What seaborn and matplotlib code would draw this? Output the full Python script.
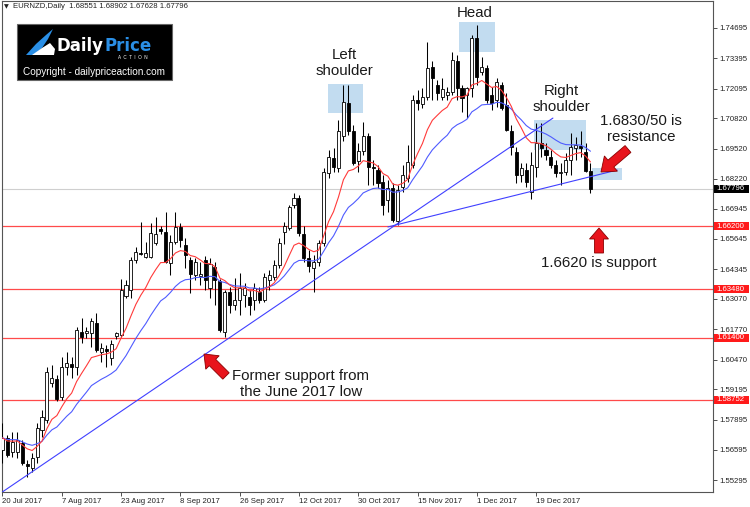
import numpy as np
import pandas as pd
import matplotlib
matplotlib.use("Agg")
import matplotlib.pyplot as plt
import seaborn as sns
from matplotlib.patches import Rectangle, FancyArrow, Polygon
from matplotlib.transforms import blended_transform_factory, IdentityTransform

# ---------------- data (EURNZD daily) ----------------
opens = [1.5659, 1.5711, 1.5650, 1.5650, 1.5689, 1.5599, 1.5582, 1.5629, 1.5745, 1.5788,
         1.5947, 1.5964, 1.5886, 1.6015, 1.6028, 1.6015, 1.6165, 1.6161, 1.6161, 1.6204,
         1.6080, 1.6092, 1.6054, 1.6148, 1.6152, 1.6320, 1.6346, 1.6474, 1.6504, 1.6487,
         1.6487, 1.6547, 1.6607, 1.6594, 1.6461, 1.6551, 1.6616, 1.6539, 1.6474, 1.6410,
         1.6406, 1.6474, 1.6354, 1.6444, 1.6384, 1.6165, 1.6337, 1.6281, 1.6303, 1.6324,
         1.6315, 1.6303, 1.6337, 1.6303, 1.6388, 1.6401, 1.6453, 1.6594, 1.6611, 1.6710,
         1.6740, 1.6586, 1.6483, 1.6440, 1.6466, 1.6547, 1.6847, 1.6911, 1.6869, 1.7006,
         1.7148, 1.7027, 1.6899, 1.6942, 1.7006, 1.6873, 1.6860, 1.6809, 1.6732, 1.6783,
         1.6641, 1.6787, 1.6825, 1.6882, 1.7161, 1.7144, 1.7173, 1.7302, 1.7225, 1.7173,
         1.7182, 1.7195, 1.7330, 1.7212, 1.7182, 1.7212, 1.7427, 1.7281, 1.7298, 1.7182,
         1.7161, 1.7225, 1.7139, 1.7027, 1.6937, 1.6839, 1.6860, 1.6766, 1.6873, 1.6976,
         1.6946, 1.6916, 1.6882, 1.6847, 1.6852, 1.6903, 1.6955, 1.6963, 1.6937, 1.68551]
highs = [1.5775, 1.5723, 1.5736, 1.5736, 1.5702, 1.5616, 1.5646, 1.5775, 1.5831, 1.6015,
         1.6024, 1.5981, 1.6058, 1.6080, 1.6058, 1.6187, 1.6225, 1.6187, 1.6225, 1.6247,
         1.6118, 1.6110, 1.6131, 1.6165, 1.6393, 1.6388, 1.6487, 1.6530, 1.6637, 1.6551,
         1.6633, 1.6658, 1.6620, 1.6680, 1.6581, 1.6681, 1.6633, 1.6568, 1.6487, 1.6483,
         1.6466, 1.6491, 1.6483, 1.6466, 1.6393, 1.6346, 1.6358, 1.6397, 1.6418, 1.6376,
         1.6346, 1.6376, 1.6358, 1.6418, 1.6431, 1.6474, 1.6568, 1.6637, 1.6710, 1.6762,
         1.6753, 1.6620, 1.6517, 1.6496, 1.6560, 1.6869, 1.6946, 1.6955, 1.7075, 1.7225,
         1.7225, 1.7053, 1.6976, 1.7066, 1.7019, 1.6903, 1.6882, 1.6839, 1.6818, 1.6805,
         1.6796, 1.6882, 1.6968, 1.7182, 1.7204, 1.7212, 1.7409, 1.7330, 1.7247, 1.7255,
         1.7216, 1.7367, 1.7354, 1.7225, 1.7216, 1.7440, 1.7482, 1.7344, 1.7311, 1.7216,
         1.7255, 1.7238, 1.7191, 1.7053, 1.6959, 1.6890, 1.6890, 1.6937, 1.7062, 1.7062,
         1.6976, 1.6946, 1.6903, 1.6890, 1.6933, 1.7019, 1.7002, 1.7027, 1.6976, 1.68902]
lows = [1.5603, 1.5629, 1.5629, 1.5625, 1.5595, 1.5543, 1.5565, 1.5603, 1.5715, 1.5775,
        1.5929, 1.5869, 1.5874, 1.5981, 1.5968, 1.5981, 1.6118, 1.6140, 1.6101, 1.6080,
        1.6037, 1.6015, 1.6024, 1.6135, 1.6144, 1.6311, 1.6311, 1.6461, 1.6496, 1.6483,
        1.6483, 1.6539, 1.6586, 1.6461, 1.6410, 1.6543, 1.6530, 1.6440, 1.6333, 1.6388,
        1.6367, 1.6346, 1.6311, 1.6281, 1.6165, 1.6144, 1.6247, 1.6260, 1.6238, 1.6272,
        1.6238, 1.6260, 1.6291, 1.6294, 1.6346, 1.6388, 1.6440, 1.6543, 1.6603, 1.6697,
        1.6577, 1.6466, 1.6423, 1.6337, 1.6448, 1.6534, 1.6825, 1.6852, 1.6852, 1.6984,
        1.7010, 1.6881, 1.6852, 1.6925, 1.6796, 1.6796, 1.6783, 1.6666, 1.6681, 1.6637,
        1.6624, 1.6766, 1.6809, 1.6869, 1.7118, 1.7126, 1.7161, 1.7161, 1.7161, 1.7161,
        1.7161, 1.7182, 1.7161, 1.7109, 1.7083, 1.7173, 1.7225, 1.7268, 1.7148, 1.7118,
        1.7131, 1.7118, 1.7027, 1.6925, 1.6805, 1.6809, 1.6787, 1.6738, 1.6830, 1.6916,
        1.6903, 1.6869, 1.6830, 1.6796, 1.6839, 1.6839, 1.6903, 1.6916, 1.6852, 1.67628]
closes = [1.5711, 1.5638, 1.5693, 1.5702, 1.5603, 1.5590, 1.5625, 1.5753, 1.5801, 1.5994,
          1.5968, 1.5878, 1.6015, 1.6032, 1.6015, 1.6174, 1.6144, 1.6170, 1.6213, 1.6088,
          1.6097, 1.6084, 1.6114, 1.6161, 1.6346, 1.6367, 1.6474, 1.6509, 1.6500, 1.6504,
          1.6590, 1.6586, 1.6599, 1.6466, 1.6551, 1.6616, 1.6560, 1.6496, 1.6414, 1.6466,
          1.6414, 1.6388, 1.6457, 1.6388, 1.6174, 1.6337, 1.6281, 1.6303, 1.6354, 1.6354,
          1.6281, 1.6354, 1.6303, 1.6401, 1.6410, 1.6453, 1.6547, 1.6620, 1.6701, 1.6740,
          1.6590, 1.6483, 1.6448, 1.6466, 1.6547, 1.6852, 1.6916, 1.6873, 1.7027, 1.7152,
          1.7027, 1.6890, 1.6942, 1.7006, 1.6873, 1.6869, 1.6805, 1.6710, 1.6783, 1.6646,
          1.6775, 1.6839, 1.6895, 1.7161, 1.7148, 1.7173, 1.7298, 1.7255, 1.7191, 1.7208,
          1.7195, 1.7332, 1.7212, 1.7169, 1.7212, 1.7427, 1.7259, 1.7302, 1.7161, 1.7148,
          1.7238, 1.7126, 1.7032, 1.6959, 1.6839, 1.6869, 1.6809, 1.6882, 1.6976, 1.6955,
          1.6925, 1.6882, 1.6847, 1.6852, 1.6903, 1.6959, 1.6968, 1.6955, 1.6855, 1.67796]

first_date = "2017-07-20"
date_label_step = 12
price_ticks = [1.74695, 1.73395, 1.72095, 1.70820, 1.69520, 1.68220, 1.66945, 1.65645,
               1.64345, 1.63070, 1.61770, 1.60470, 1.59195, 1.57895, 1.56595, 1.55295]
support_levels = [1.66200, 1.63480, 1.61400, 1.58752]
current_price = 1.67796
header = "EURNZD,Daily  1.68551 1.68902 1.67628 1.67796"
# trendlines: (bar, price) end points
trend_a = ([-0.1, 111.4], [1.5478, 1.7083])
trend_b = ([78.0, 124.4], [1.6616, 1.6860])
# highlighted zones: (bar0, bar1, price_low, price_high)
zones = [(65.8, 72.9, 1.7105, 1.7229),
         (92.3, 99.6, 1.7367, 1.7495),
         (107.5, 118.0, 1.6946, 1.7075),
         (119.4, 125.3, 1.6817, 1.6869)]

# ---------------- build frame ----------------
n = len(closes)
dates = pd.bdate_range(first_date, periods=n)
df = pd.DataFrame({"bar": np.arange(n), "open": opens, "high": highs,
                   "low": lows, "close": closes})
df["ema_fast"] = df["close"].ewm(span=10, adjust=False).mean()
df["ema_slow"] = df["close"].ewm(span=21, adjust=False).mean()

sns.set_theme(style="white")
plt.rcParams["font.family"] = ["Liberation Sans", "DejaVu Sans"]

W, H = 750, 507
fig = plt.figure(figsize=(W / 100, H / 100), dpi=100)
fig.patch.set_facecolor("white")
ax = fig.add_axes([2 / W, 15 / H, 711 / W, 491 / H])
ax.set_facecolor("white")
ax.set_xlim(-0.1, 143.8)
ax.set_ylim(1.54789, 1.75853)

# zones
for b0, b1, p0, p1 in zones:
    ax.add_patch(Rectangle((b0, p0), b1 - b0, p1 - p0, facecolor="#bcd9ef",
                           edgecolor="none", alpha=0.9, zorder=1))

# horizontal levels
ax.axhline(current_price, color="#cfcfcf", lw=0.8, zorder=0.5)
for lv in support_levels:
    ax.axhline(lv, color="#ff4a4a", lw=0.9, zorder=2)

# candles
x = df["bar"].to_numpy()
o = df["open"].to_numpy(); c = df["close"].to_numpy()
ax.vlines(x, df["low"], df["high"], color="black", lw=0.75, zorder=3)
up = c >= o
body_h = np.maximum(np.abs(c - o), 0.00004)
ax.bar(x, body_h, bottom=np.minimum(o, c), width=0.62,
       color=np.where(up, "white", "black"), edgecolor="black",
       linewidth=0.6, zorder=4)

# moving averages
sns.lineplot(data=df, x="bar", y="ema_slow", ax=ax, color="#4f5bff", lw=0.8,
             legend=False, zorder=5)
sns.lineplot(data=df, x="bar", y="ema_fast", ax=ax, color="#ff3a3a", lw=0.8,
             legend=False, zorder=5)

# trendlines
ax.plot(trend_a[0], trend_a[1], color="#4040ff", lw=0.8, zorder=5)
ax.plot(trend_b[0], trend_b[1], color="#4040ff", lw=0.8, zorder=5)

# axes styling
for s in ax.spines.values():
    s.set_color("#555555"); s.set_linewidth(0.8); s.set_visible(True)
ax.set_xlabel(""); ax.set_ylabel("")
ax.yaxis.tick_right()
ax.set_yticks(price_ticks)
ax.set_yticklabels([f"{p:.5f}" for p in price_ticks])
ax.tick_params(axis="y", which="both", right=True, left=False, length=3, width=0.6,
               pad=1.5, labelsize=5.6, color="#333333", labelcolor="#222222",
               direction="out")
xt = list(range(0, n, date_label_step))
ax.set_xticks(xt)
ax.set_xticklabels([f"{dates[i].day} {dates[i]:%b %Y}" for i in xt])
for lbl in ax.get_xticklabels():
    lbl.set_ha("left")
ax.tick_params(axis="x", which="both", bottom=True, length=3, width=0.6, pad=1.5,
               labelsize=5.6, color="#333333", labelcolor="#222222", direction="out")

# highlighted price labels on the right scale
trans = blended_transform_factory(ax.transAxes, ax.transData)
box_h = 0.0035
for val, fc in [(current_price, "black")] + [(lv, "#ff1a1a") for lv in support_levels]:
    ax.add_patch(Rectangle((1.0014, val - box_h / 2), 0.0492, box_h, transform=trans,
                           facecolor=fc, edgecolor="none", clip_on=False, zorder=10))
    ax.text(1.0045, val, f"{val:.5f}", transform=trans, ha="left", va="center",
            fontsize=5.6, color="white", clip_on=False, zorder=11)

# ---------------- header & logo ----------------
def fx(px):
    return px / W

def fy(py):
    return 1 - py / H

fig.text(fx(4), fy(7), "\u25BC", fontsize=4.5, color="#222222", ha="left", va="center",
         family=["DejaVu Sans"])
fig.text(fx(13), fy(7), header, fontsize=5.6, color="#222222", ha="left", va="center")

fig.add_artist(Rectangle((fx(17), fy(80)), 155 / W, 56 / H, transform=fig.transFigure,
                         facecolor="black", edgecolor="#666666", lw=0.8, zorder=20))
blue_pts = [(26, 55), (36, 44), (46, 35), (53, 29), (48, 39), (42, 48), (34, 55)]
white_pts = [(32, 55), (42, 48), (50, 43), (55, 49), (54, 55)]
for pts, col in [(blue_pts, "#2a8fe6"), (white_pts, "white")]:
    fig.add_artist(Polygon([(px, H - py) for px, py in pts], closed=True,
                           transform=IdentityTransform(), facecolor=col,
                           edgecolor="none", zorder=21))
fig.text(fx(57), fy(46), "Daily", fontsize=12, fontweight="bold", color="white",
         family=["DejaVu Sans"], ha="left", va="center", zorder=22)
fig.text(fx(104), fy(46), "Price", fontsize=12, fontweight="bold", color="#2a8fe6",
         family=["DejaVu Sans"], ha="left", va="center", zorder=22)
fig.text(fx(133), fy(57.5), "A  C  T  I  O  N", fontsize=3.3, color="white",
         ha="center", va="center", zorder=22)
fig.text(fx(94), fy(72), "Copyright - dailypriceaction.com", fontsize=7.2,
         color="white", ha="center", va="center", zorder=22)

# ---------------- annotations ----------------
tc = "#1a1a1a"
fs = 10.8
fig.text(fx(475), fy(13), "Head", fontsize=fs, color=tc, ha="center", va="center")
fig.text(fx(344), fy(63), "Left\nshoulder", fontsize=fs, color=tc, ha="center",
         va="center", linespacing=1.1)
fig.text(fx(561), fy(99), "Right\nshoulder", fontsize=fs, color=tc, ha="center",
         va="center", linespacing=1.1)
fig.text(fx(641), fy(129), "1.6830/50 is\nresistance", fontsize=fs, color=tc,
         ha="center", va="center", linespacing=1.1)
fig.text(fx(599), fy(263), "1.6620 is support", fontsize=fs, color=tc,
         ha="center", va="center")
fig.text(fx(301), fy(384), "Former support from\nthe June 2017 low", fontsize=fs,
         color=tc, ha="center", va="center", linespacing=1.1)


def block_arrow(tail, tip, width, head_width, head_length):
    x0, y0 = tail[0], H - tail[1]
    x1, y1 = tip[0], H - tip[1]
    fig.add_artist(FancyArrow(x0, y0, x1 - x0, y1 - y0, width=width,
                              head_width=head_width, head_length=head_length,
                              length_includes_head=True, transform=IdentityTransform(),
                              facecolor="#e8141c", edgecolor="#8a0000", lw=0.6,
                              zorder=25))


block_arrow((628, 149), (601, 172), 9, 20, 13)
block_arrow((599, 253), (599, 228), 9, 19, 11)
block_arrow((226, 376), (204, 354), 9, 19, 12)

fig.savefig("out.png", dpi=100)
